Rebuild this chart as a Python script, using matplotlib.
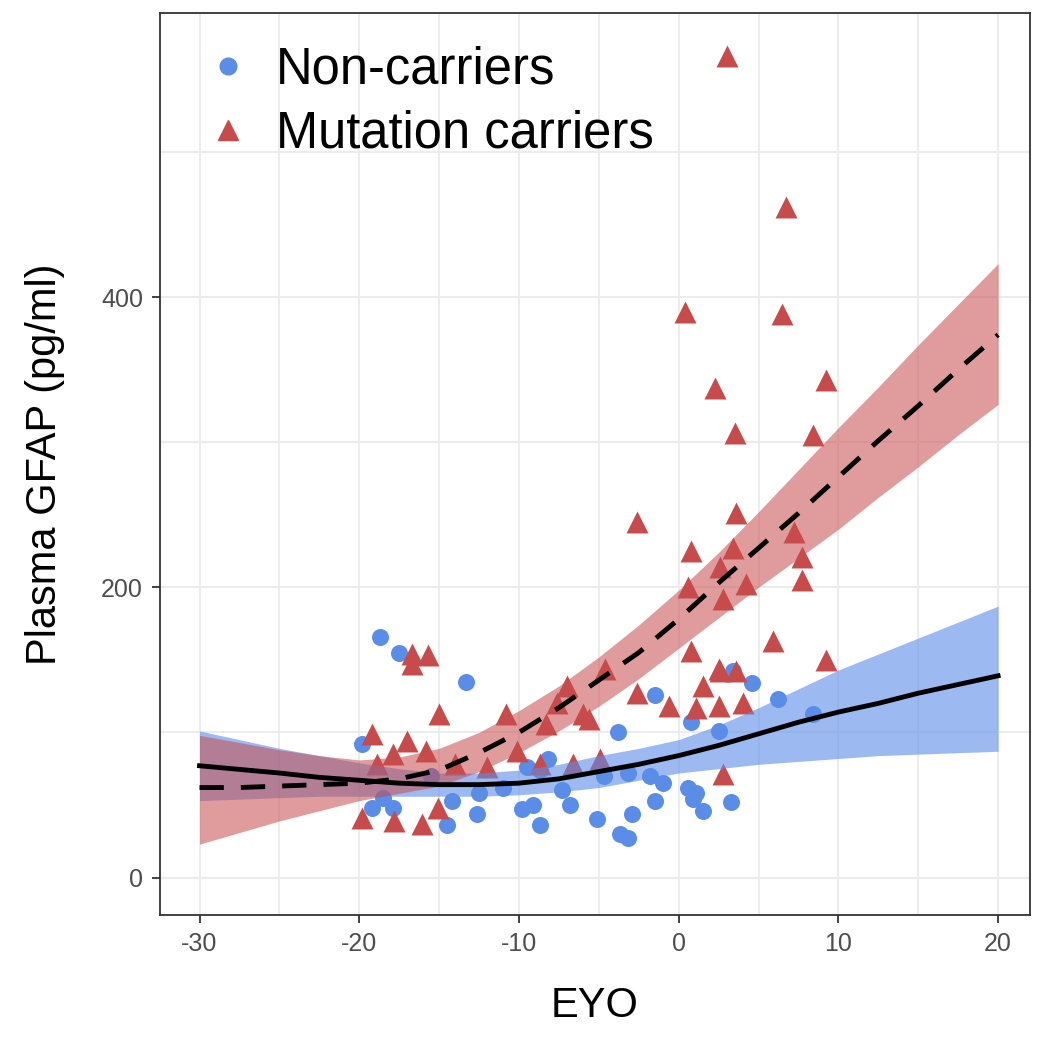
import numpy as np
import matplotlib.pyplot as plt
from matplotlib.lines import Line2D

plt.rcParams['font.family'] = ['Liberation Sans', 'DejaVu Sans']
plt.rcParams['axes.unicode_minus'] = False

# Non-carriers (EYO, GFAP)
nc_x = [-18.7, -17.5, -13.3, -19.8, -19.2, -17.9, -18.5, -14.5, -14.2, -12.6,
        -12.5, -9.8, -9.1, -8.7, -6.8, -5.1, -9.5, -8.2, -7.3, -8.7,
        -3.8, -1.5, 0.8, 2.5, -3.2, -1.8, -1.0, -4.7, 0.6, 1.1,
        0.9, 1.5, -1.5, -2.9, -3.7, -3.2, 3.3, 3.4, 4.6, 6.2,
        8.4, -15.5, -11.0]
nc_y = [166, 155, 135, 92, 48, 48, 55, 36, 53, 44,
        58, 47, 50, 36, 50, 40, 76, 82, 60, 74,
        100, 126, 107, 101, 72, 70, 65, 70, 62, 58,
        54, 46, 53, 44, 30, 27, 52, 142, 134, 123,
        113, 70, 62]

# Mutation carriers
mc_x = [-16.7, -16.7, -15.7, -15.0, -10.8, -19.2, -17.0, -17.9, -15.8, -18.9,
        -14.0, -12.0, -10.1, -19.8, -17.8, -16.1, -15.1, -8.3, -7.0, -5.6,
        -4.6, -8.7, -6.6, -4.9, -7.6, -6.0, -2.6, -0.6, 1.1, 2.5,
        1.5, 0.8, 2.5, 3.6, 2.6, 4.0, 2.8, -2.6, 3.6, 0.8,
        3.4, 7.2, 2.6, 7.7, 0.6, 4.2, 2.8, 7.7, 5.9, 9.2,
        0.4, 6.5, 2.3, 9.2, 3.5, 8.4, 3.0, 6.7]
mc_y = [154, 147, 153, 113, 113, 99, 94, 85, 87, 78,
        78, 76, 87, 41, 39, 37, 48, 106, 132, 109,
        144, 78, 78, 82, 120, 113, 127, 118, 117, 118,
        132, 156, 144, 142, 142, 120, 71, 245, 251, 225,
        227, 238, 214, 221, 200, 202, 192, 205, 163, 150,
        390, 388, 337, 343, 306, 305, 566, 462]

# model fits with confidence bands, read every 2.5 years
fit_x = [-30, -27.5, -25, -22.5, -20, -17.5, -15, -12.5, -10, -7.5, -5,
         -2.5, 0, 2.5, 5, 7.5, 10, 12.5, 15, 17.5, 20]
nc_fit = [77, 74.5, 72, 69, 67, 65, 64, 64, 65, 68, 73,
          78, 84, 91, 99, 107, 114, 120, 127, 133, 139]
nc_lo = [53, 54, 55, 56, 56, 56, 56, 56, 57, 59, 62,
         67, 72, 75, 78, 80, 82, 84, 85, 86, 87]
nc_hi = [101, 95, 89, 84, 79, 75, 72, 72, 74, 78, 84,
         89, 95, 105, 117, 130, 143, 154, 165, 176, 187]
mc_fit = [62, 62, 63, 64, 65, 68, 74, 86, 100, 117, 136,
          155, 178, 203, 227, 251, 276, 301, 325, 350, 374]
mc_lo = [23, 31, 39, 46, 53, 58, 63, 73, 86, 101, 118,
         137, 158, 179, 200, 220, 240, 262, 283, 305, 326]
mc_hi = [98, 93, 88, 84, 81, 83, 89, 100, 115, 132, 152,
         174, 198, 224, 252, 281, 310, 338, 367, 395, 423]

blue = '#5A8DE8'
red = '#C84B4B'

fig = plt.figure(figsize=(10.5, 10.46), dpi=100)
ax = fig.add_axes([0.152, 0.125, 0.829, 0.863])

ax.scatter(nc_x, nc_y, s=150, marker='o', color=blue, linewidths=0, zorder=2)
ax.scatter(mc_x, mc_y, s=250, marker='^', color=red, linewidths=0, zorder=2)

ax.fill_between(fit_x, nc_lo, nc_hi, color=blue, alpha=0.6, linewidth=0, zorder=3)
ax.fill_between(fit_x, mc_lo, mc_hi, color=red, alpha=0.55, linewidth=0, zorder=3)

ax.plot(fit_x, nc_fit, color='black', lw=3.5, zorder=4)
ax.plot(fit_x, mc_fit, color='black', lw=3.5, dashes=(5, 3.5), zorder=4)

ax.set_xlim(-32.5, 22)
ax.set_ylim(-26, 596)
ax.set_xticks([-30, -20, -10, 0, 10, 20])
ax.set_xticks([-25, -15, -5, 5, 15], minor=True)
ax.set_yticks([0, 200, 400])
ax.set_yticks([100, 300, 500], minor=True)
ax.grid(True, which='both', color='#EBEBEB', lw=1.3, zorder=0)
ax.set_axisbelow(True)
ax.tick_params(which='major', length=6, width=1.3, color='#333333',
               labelsize=18, labelcolor='#4D4D4D', pad=6)
ax.tick_params(which='minor', length=0)
for sp in ax.spines.values():
    sp.set_color('#333333')
    sp.set_linewidth(1.3)

ax.set_xlabel('EYO', fontsize=30, labelpad=22)
ax.set_ylabel('Plasma GFAP (pg/ml)', fontsize=30, labelpad=26)

handles = [Line2D([], [], marker='o', color=blue, ls='', markersize=12),
           Line2D([], [], marker='^', color=red, ls='', markersize=15)]
ax.legend(handles, ['Non-carriers', 'Mutation carriers'], loc='upper left',
          bbox_to_anchor=(0.017, 1.0), frameon=False, fontsize=36.5,
          handlelength=0.8, handletextpad=0.55, labelspacing=0.3,
          borderaxespad=0.25)

fig.savefig('out.png', dpi=100)
